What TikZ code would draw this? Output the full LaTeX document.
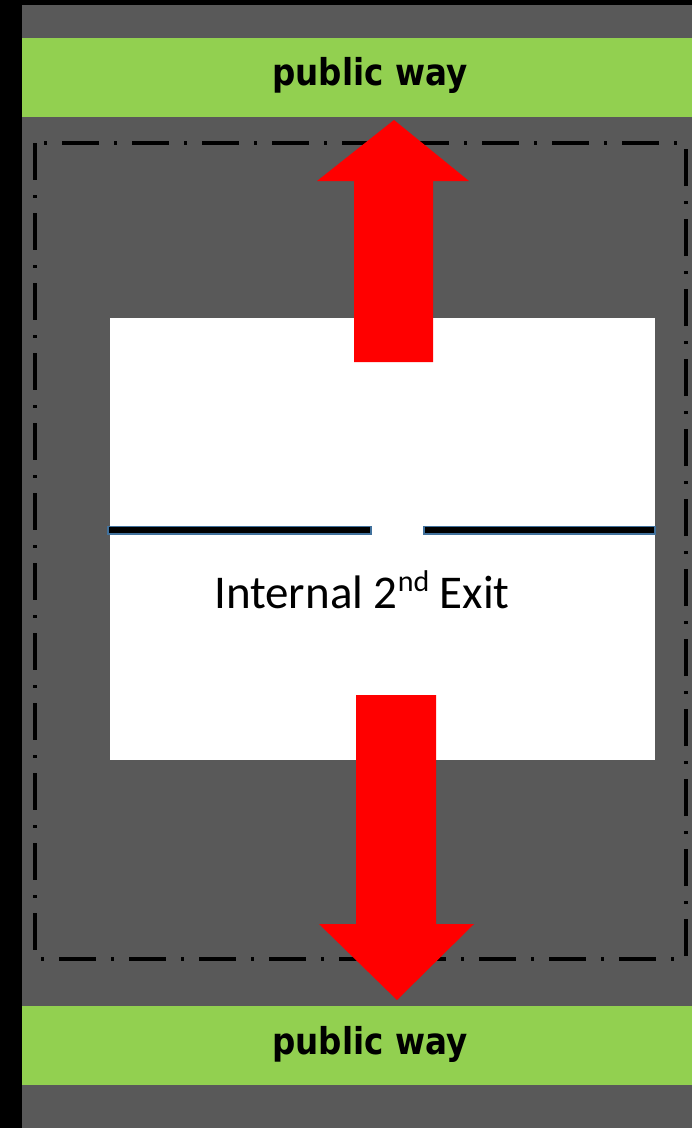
\documentclass[tikz,border=0pt]{standalone}
\usepackage{fontspec}
\newfontfamily\labelfont{Carlito}
\newfontfamily\wayfont[FakeStretch=0.88]{DejaVu Sans}
\definecolor{bggray}{HTML}{595959}
\definecolor{waygreen}{HTML}{92D050}
\definecolor{exitred}{HTML}{FF0000}
\definecolor{wallblue}{HTML}{41719C}
\tikzset{
  band/.style={fill=waygreen, draw=none, minimum width=670pt, minimum height=79pt, inner sep=0pt},
  waytext/.style={font=\wayfont\bfseries\fontsize{37}{37}\selectfont, text=black, anchor=base, inner sep=0pt},
  boundary/.style={draw=black, line width=3.5pt, dash pattern=on 37pt off 15pt on 3pt off 15pt},
  exitarrow/.style={fill=exitred, draw=none},
  wall/.style={draw=wallblue, fill=black, line width=1.5pt},
}
\begin{document}
\begin{tikzpicture}[x=1pt, y=-1pt]
  \useasboundingbox (0,0) rectangle (692,1128);
  % background
  \fill[black] (0,0) rectangle (692,1128);
  \fill[bggray] (22,5) rectangle (692,1128);
  % public ways
  \node[band, anchor=north west] (topway) at (22,38) {};
  \node[band, anchor=north west] (botway) at (22,1006) {};
  \node[waytext] (toptext) at (370,85) {public way};
  \node[waytext] (bottext) at (370,1054) {public way};
  % site boundary
  \draw[boundary] (35,143) rectangle (686,959);
  % building
  \fill[white] (110,318) rectangle (655,760);
  % internal wall with opening
  \draw[wall] (108,526.5) rectangle (371,534);
  \draw[wall] (424,526.5) rectangle (655,534);
  % label
  \node[font=\labelfont\fontsize{47}{47}\selectfont, anchor=base, inner sep=0pt] (lbl) at (362,608)
    {Internal 2\raisebox{0.36em}{\fontsize{30}{30}\selectfont nd} Exit};
  % exit arrows
  \fill[exitarrow] (354,362) -- (354,181) -- (317,181) -- (394,120) -- (469,181) -- (433,181) -- (433,362) -- cycle;
  \fill[exitarrow] (356,695) -- (356,924) -- (319,924) -- (397,1000) -- (474,924) -- (436,924) -- (436,695) -- cycle;
\end{tikzpicture}
\end{document}
